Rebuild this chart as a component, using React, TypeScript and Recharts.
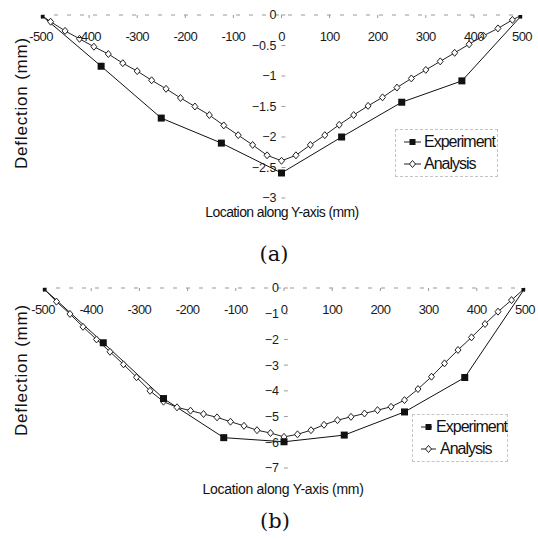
import { LineChart, Line, XAxis, YAxis, ReferenceLine, Legend } from "recharts";

const FONT = "'Liberation Sans', Arial, sans-serif";

const xTicks = [-500, -400, -300, -200, -100, 0, 100, 200, 300, 400, 500];
const yTicksA = [0, -0.5, -1, -1.5, -2, -2.5, -3];
const yTicksB = [0, -1, -2, -3, -4, -5, -6, -7];

const expX = [-500, -375, -250, -125, 0, 125, 250, 375, 500];
const expA = [0, -0.84, -1.69, -2.1, -2.59, -2.0, -1.43, -1.08, 0];
const expB = [0, -2.13, -4.3, -5.82, -5.98, -5.72, -4.82, -3.48, 0];

const anaXA = [
  -500, -480, -450, -420, -390, -360, -330, -300, -270, -240, -210, -180, -150, -120, -90, -60, -30, 0,
  30, 60, 90, 120, 150, 180, 210, 240, 270, 300, 330, 360, 390, 420, 450, 480, 500
];
const anaA = [
  0, -0.11, -0.26, -0.39, -0.52, -0.64, -0.79, -0.92, -1.07, -1.21, -1.36, -1.5, -1.64, -1.81, -1.97, -2.13, -2.3, -2.39,
  -2.3, -2.13, -1.97, -1.8, -1.64, -1.49, -1.35, -1.19, -1.04, -0.9, -0.76, -0.62, -0.48, -0.34, -0.22, -0.08, 0
];

const anaXB = [
  -500, -472, -444, -417, -389, -361, -333, -306, -278, -250, -222, -194, -167, -139, -111, -83, -56, -28, 0,
  28, 56, 83, 111, 139, 167, 194, 222, 250, 278, 306, 333, 361, 389, 417, 444, 472, 500
];
const anaB = [
  0, -0.53, -1.01, -1.51, -2.0, -2.48, -2.97, -3.47, -4.0, -4.42, -4.64, -4.77, -4.9, -5.03, -5.2, -5.36, -5.53, -5.64, -5.79,
  -5.69, -5.53, -5.32, -5.14, -5.01, -4.88, -4.75, -4.62, -4.36, -3.93, -3.45, -2.93, -2.41, -1.92, -1.4, -0.92, -0.47, 0
];

const toPoints = (xs: number[], ys: number[]) => xs.map((x, i) => ({ x, y: ys[i] }));

function SquareDot(props: any) {
  const { cx, cy } = props;
  if (cx == null || cy == null) return <g />;
  return <rect x={cx - 3.5} y={cy - 3.5} width={7} height={7} fill="#111" />;
}

function DiamondDot(props: any) {
  const { cx, cy } = props;
  if (cx == null || cy == null) return <g />;
  return (
    <polygon
      points={`${cx},${cy - 3.5} ${cx + 3},${cy} ${cx},${cy + 3.5} ${cx - 3},${cy}`}
      fill="#fff"
      stroke="#222"
      strokeWidth={1}
    />
  );
}

function LegendBox({ markerW, gap }: { markerW: number; gap: number }) {
  const row = (label: string, square: boolean) => (
    <div style={{ display: "flex", alignItems: "center", height: 22 }}>
      <svg width={markerW} height={10} style={{ marginRight: gap }}>
        <line x1={0} y1={5} x2={markerW} y2={5} stroke="#222" />
        {square ? (
          <rect x={markerW / 2 - 3} y={2} width={6} height={6} fill="#111" />
        ) : (
          <polygon
            points={`${markerW / 2},1.5 ${markerW / 2 + 3},5 ${markerW / 2},8.5 ${markerW / 2 - 3},5`}
            fill="#fff"
            stroke="#222"
          />
        )}
      </svg>
      <span style={{ fontFamily: FONT, fontSize: 16, letterSpacing: -1, color: "#111" }}>{label}</span>
    </div>
  );
  return (
    <div
      style={{
        border: "1px dashed #c4c4c4",
        boxSizing: "border-box",
        height: "100%",
        paddingLeft: 8,
        paddingTop: 1
      }}
    >
      {row("Experiment", true)}
      {row("Analysis", false)}
    </div>
  );
}

function Panel({
  top,
  height,
  margin,
  yMin,
  yTicks,
  exp,
  ana,
  legend
}: {
  top: number;
  height: number;
  margin: { top: number; right: number; bottom: number; left: number };
  yMin: number;
  yTicks: number[];
  exp: number[];
  ana: { xs: number[]; ys: number[] };
  legend: { left: number; top: number; width: number; markerW: number; gap: number };
}) {
  return (
    <div style={{ position: "absolute", left: 0, top }}>
      <LineChart width={538} height={height} margin={margin}>
        <XAxis
          type="number"
          dataKey="x"
          orientation="top"
          mirror
          domain={[-500, 500]}
          ticks={xTicks}
          allowDataOverflow
          axisLine={{ stroke: "#999", strokeDasharray: "4 9" }}
          tickLine={{ stroke: "#999" }}
          tickSize={3}
          tickMargin={14}
          tick={{ fontSize: 13, fill: "#1a1a1a", fontFamily: FONT, letterSpacing: -0.6 }}
        />
        <YAxis type="number" dataKey="y" domain={[yMin, 0]} hide allowDataOverflow />
        {yTicks.map((v) => (
          <ReferenceLine
            key={v}
            segment={[
              { x: 0, y: v },
              { x: 8, y: v }
            ]}
            stroke="#999"
            ifOverflow="visible"
            label={{
              value: String(v).replace("-", "\u2212"),
              position: "left",
              offset: 5,
              fontSize: 12.5,
              fill: "#1a1a1a",
              fontFamily: FONT
            }}
          />
        ))}
        <Line
          data={toPoints(ana.xs, ana.ys)}
          dataKey="y"
          type="linear"
          stroke="#222"
          strokeWidth={1}
          dot={<DiamondDot />}
          isAnimationActive={false}
        />
        <Line
          data={toPoints(expX, exp)}
          dataKey="y"
          type="linear"
          stroke="#111"
          strokeWidth={1}
          dot={<SquareDot />}
          isAnimationActive={false}
        />
        <Legend
          layout="vertical"
          align="center"
          verticalAlign="middle"
          content={() => <LegendBox markerW={legend.markerW} gap={legend.gap} />}
          wrapperStyle={{ left: legend.left, top: legend.top, width: legend.width, height: 48 }}
        />
      </LineChart>
    </div>
  );
}

const textBase: React.CSSProperties = {
  position: "absolute",
  whiteSpace: "nowrap",
  fontFamily: FONT,
  color: "#111"
};

export default function App() {
  return (
    <div style={{ position: "absolute", left: 0, top: 0, width: 538, height: 540, background: "#fff" }}>
      <Panel
        top={0}
        height={225}
        margin={{ top: 15, right: 16, bottom: 27, left: 41 }}
        yMin={-3}
        yTicks={yTicksA}
        exp={expA}
        ana={{ xs: anaXA, ys: anaA }}
        legend={{ left: 395, top: 129, width: 103, markerW: 17, gap: 3 }}
      />
      <Panel
        top={270}
        height={222}
        margin={{ top: 18, right: 13, bottom: 24, left: 43 }}
        yMin={-7}
        yTicks={yTicksB}
        exp={expB}
        ana={{ xs: anaXB, ys: anaB }}
        legend={{ left: 412, top: 144, width: 96, markerW: 15, gap: 4 }}
      />
      <div
        style={{
          ...textBase,
          left: 22,
          top: 103,
          fontSize: 17,
          letterSpacing: 0.8,
          transform: "translate(-50%, -50%) rotate(-90deg)"
        }}
      >
        Deflection (mm)
      </div>
      <div
        style={{
          ...textBase,
          left: 22,
          top: 370,
          fontSize: 17,
          letterSpacing: 0.8,
          transform: "translate(-50%, -50%) rotate(-90deg)"
        }}
      >
        Deflection (mm)
      </div>
      <div style={{ ...textBase, left: 282, top: 212, fontSize: 14, letterSpacing: -0.6, transform: "translate(-50%, -50%)" }}>
        Location along Y-axis (mm)
      </div>
      <div style={{ ...textBase, left: 283, top: 489, fontSize: 14, letterSpacing: -0.3, transform: "translate(-50%, -50%)" }}>
        Location along Y-axis (mm)
      </div>
      <div
        style={{
          ...textBase,
          left: 274,
          top: 254,
          fontSize: 21,
          fontFamily: "'DejaVu Serif', 'Liberation Serif', serif",
          transform: "translate(-50%, -50%)"
        }}
      >
        (a)
      </div>
      <div
        style={{
          ...textBase,
          left: 275,
          top: 521,
          fontSize: 21,
          fontFamily: "'DejaVu Serif', 'Liberation Serif', serif",
          transform: "translate(-50%, -50%)"
        }}
      >
        (b)
      </div>
    </div>
  );
}
